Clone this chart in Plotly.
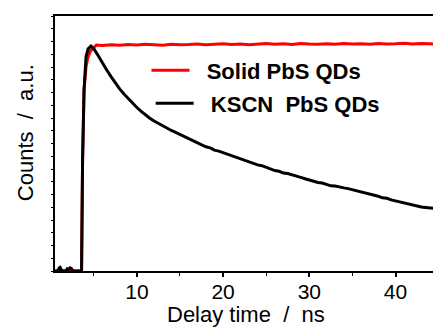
import plotly.graph_objects as go

# ---- data ----
t_kscn = [0.5, 0.8, 1.0, 1.1, 1.2, 1.4, 1.8, 1.95, 2.1, 2.25, 2.4, 2.6, 3.0, 3.4, 3.58,
          3.70, 3.87, 4.10, 4.34, 4.68, 5.0, 5.5, 6.0, 6.5, 7.0, 7.5, 8.0, 8.5, 9.0, 9.5,
          10, 10.5, 11, 11.5, 12, 12.5, 13, 13.5, 14, 14.5, 15, 15.5, 16, 16.5, 17, 17.5,
          18, 18.5, 19, 19.5, 20, 20.5, 21, 21.5, 22, 22.5, 23, 23.5, 24, 24.5, 25, 25.5,
          26, 26.5, 27, 27.5, 28, 28.5, 29, 29.5, 30, 30.5, 31, 31.5, 32, 32.5, 33, 33.5,
          34, 34.5, 35, 35.5, 36, 36.5, 37, 37.5, 38, 38.5, 39, 39.5, 40, 40.5, 41, 41.5,
          42, 42.5, 43, 43.5, 44, 44.4]
y_kscn = [0.0, 0.0, 0.012, 0.014, 0.006, 0.0, 0.0, 0.012, 0.004, 0.012, 0.010, 0.0, 0.0, 0.0, 0.0,
          0.435, 0.71, 0.84, 0.871, 0.882, 0.872, 0.845, 0.815, 0.788, 0.762, 0.737, 0.714, 0.694, 0.675, 0.657,
          0.641, 0.626, 0.612, 0.599, 0.588, 0.578, 0.569, 0.558, 0.551, 0.544, 0.536, 0.528, 0.521, 0.513, 0.504, 0.497,
          0.487, 0.483, 0.474, 0.470, 0.464, 0.457, 0.453, 0.444, 0.438, 0.434, 0.427, 0.420, 0.416, 0.413, 0.407, 0.399,
          0.394, 0.391, 0.384, 0.382, 0.376, 0.370, 0.367, 0.362, 0.357, 0.351, 0.347, 0.345, 0.340, 0.334, 0.333, 0.328,
          0.326, 0.323, 0.319, 0.313, 0.310, 0.306, 0.300, 0.298, 0.293, 0.287, 0.285, 0.279, 0.275, 0.269, 0.265, 0.262,
          0.258, 0.254, 0.251, 0.249, 0.247, 0.246]

t_solid = [0.5, 3.5, 3.58, 3.70, 3.87, 4.10, 4.30, 4.60, 5.0, 5.3, 6, 7, 8, 9, 10, 11, 12, 13, 14, 15,
           16, 17, 18, 19, 20, 21, 22, 23, 24, 25, 26, 27, 28, 29, 30, 31, 32, 33, 34, 35,
           36, 37, 38, 39, 40, 41, 42, 43, 44, 44.4]
y_solid = [0.0, 0.0, 0.0, 0.435, 0.71, 0.80, 0.835, 0.862, 0.878, 0.886, 0.884, 0.887, 0.885, 0.888, 0.886, 0.889, 0.887, 0.885, 0.889, 0.887,
           0.888, 0.890, 0.887, 0.889, 0.891, 0.888, 0.890, 0.887, 0.890, 0.892, 0.889, 0.891, 0.888, 0.892, 0.890, 0.889, 0.891, 0.889, 0.892, 0.890,
           0.891, 0.889, 0.892, 0.890, 0.891, 0.893, 0.890, 0.892, 0.891, 0.890]

x_ticks = [10, 20, 30, 40]
names = ["\u00a0\u00a0Solid PbS QDs", "\u00a0\u00a0KSCN\u00a0\u00a0PbS QDs"]

FONT = "Liberation Sans, Arial, sans-serif"

fig = go.Figure()
fig.add_trace(go.Scatter(x=t_solid, y=y_solid, mode="lines", name=names[0],
                         line=dict(color="#ff0000", width=3), legend="legend"))
fig.add_trace(go.Scatter(x=t_kscn, y=y_kscn, mode="lines", name=names[1],
                         line=dict(color="#000000", width=3), legend="legend2"))

legfont = dict(family=FONT, size=22, color="black", weight="bold")
fig.update_layout(
    width=433, height=327,
    margin=dict(l=55, r=0, t=16, b=56),
    paper_bgcolor="white", plot_bgcolor="white",
    showlegend=True,
    legend=dict(x=0.242, y=0.786, xanchor="left", yanchor="middle", font=legfont,
                bgcolor="rgba(0,0,0,0)", itemwidth=38, borderwidth=0),
    legend2=dict(x=0.253, y=0.657, xanchor="left", yanchor="middle", font=legfont,
                 bgcolor="rgba(0,0,0,0)", itemwidth=38, borderwidth=0),
    xaxis=dict(range=[0.5, 44.35], tickvals=x_ticks, ticks="outside", ticklen=4, tickwidth=1.5,
               tickcolor="black", showline=True, linecolor="black", linewidth=1.5, mirror=True,
               showgrid=False, zeroline=False, ticklabelstandoff=-3,
               tickfont=dict(family=FONT, size=21, color="black"),
               minor=dict(dtick=5, tick0=5, ticks="outside", ticklen=3, tickwidth=1, tickcolor="black")),
    yaxis=dict(range=[0, 1], showticklabels=False, ticks="outside", ticklen=2, tickwidth=1,
               tickcolor="black", dtick=0.05, showline=True, linecolor="black", linewidth=1.5,
               showgrid=False, zeroline=False),
    annotations=[
        dict(text="Delay time\u00a0 /\u00a0 ns", xref="paper", yref="paper", x=0.505, y=-0.172,
             xanchor="center", yanchor="middle", showarrow=False,
             font=dict(family=FONT, size=22, color="black")),
        dict(text="Counts\u00a0 /\u00a0 a.u.", xref="paper", yref="paper", x=-0.079, y=0.541,
             xanchor="center", yanchor="middle", textangle=-90, showarrow=False,
             font=dict(family=FONT, size=22, color="black")),
    ],
)

fig.write_html("out.html")
